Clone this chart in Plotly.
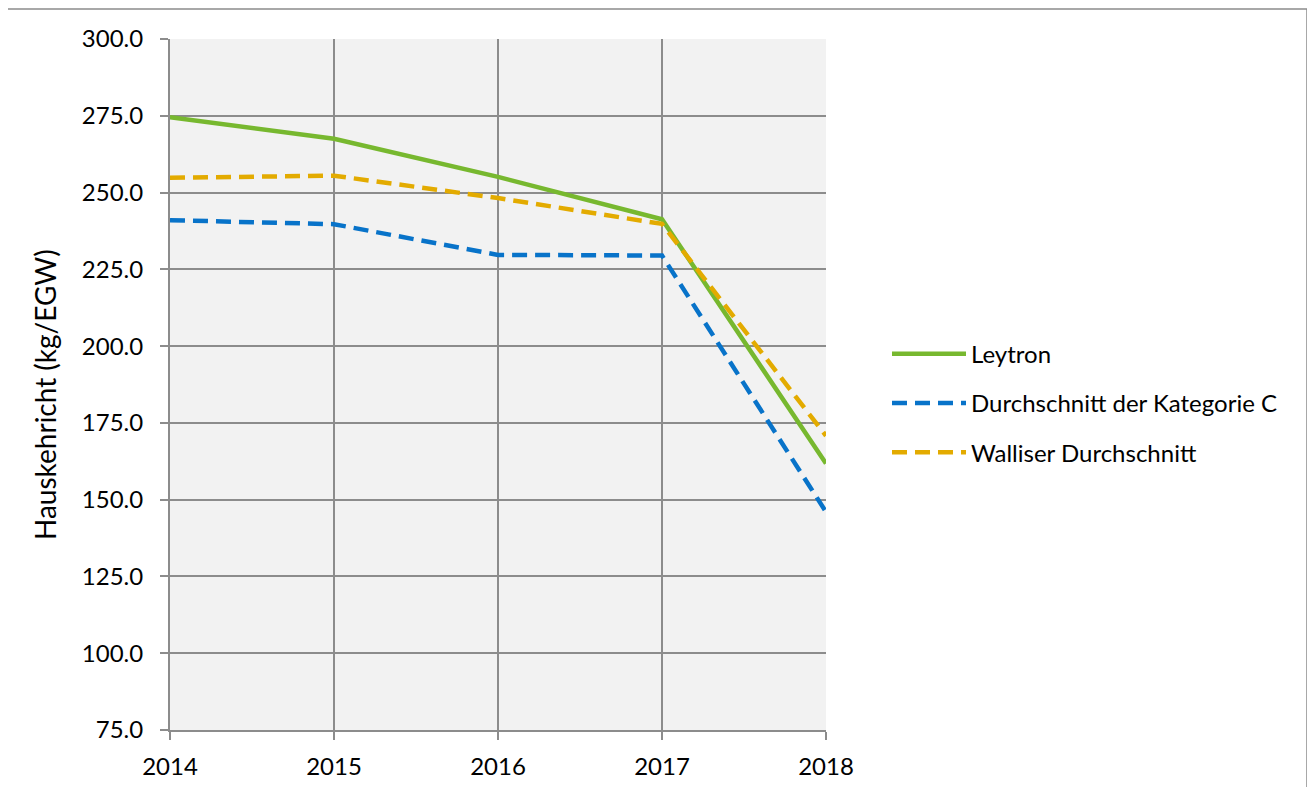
import plotly.graph_objects as go

years = [2014, 2015, 2016, 2017, 2018]
leytron = [274.5, 267.5, 255.1, 241.3, 161.8]
kategorie_c = [241.0, 239.7, 229.7, 229.5, 146.0]
wallis = [254.8, 255.5, 248.2, 239.8, 170.8]
y_ticks = [75, 100, 125, 150, 175, 200, 225, 250, 275, 300]

font_family = "Lato, 'Open Sans', sans-serif"

# page body has an 8px margin; figure is sized/offset to compensate
W, H = 1307, 779
L, R, T, B = 162, 1307 - 818, 31, 779 - 722
PW, PH = 818 - 162, 722 - 31

fig = go.Figure()
fig.add_trace(go.Scatter(x=years, y=leytron, mode="lines", name="Leytron",
                         legendgroup="a",
                         line=dict(color="#77b82f", width=4.5)))
fig.add_trace(go.Scatter(x=years, y=kategorie_c, mode="lines", name="Durchschnitt der Kategorie C",
                         legendgroup="b",
                         line=dict(color="#0873c9", width=4.5, dash="15px,8px")))
fig.add_trace(go.Scatter(x=years, y=wallis, mode="lines", name="Walliser Durchschnitt",
                         legendgroup="c",
                         line=dict(color="#e3ab00", width=4.5, dash="15px,8px")))

fig.update_layout(
    width=W, height=H,
    margin=dict(l=L, r=R, t=T, b=B, autoexpand=False),
    paper_bgcolor="white",
    plot_bgcolor="#f2f2f2",
    font=dict(family=font_family, size=24, color="black"),
    showlegend=True,
    legend=dict(x=(879 - L) / PW, y=0.473, xanchor="left", yanchor="middle",
                font=dict(size=24), bgcolor="rgba(0,0,0,0)",
                traceorder="grouped", tracegroupgap=15, itemwidth=74),
    xaxis=dict(range=[2014, 2018], tickmode="array", tickvals=years,
               ticktext=[str(y) for y in years],
               showgrid=True, gridcolor="#8c8c8c", gridwidth=2,
               showline=True, linecolor="#8c8c8c", linewidth=2,
               ticks="outside", ticklen=8, tickcolor="#8c8c8c", tickwidth=2,
               ticklabelstandoff=6,
               zeroline=False, mirror=False, tickfont=dict(size=24)),
    yaxis=dict(range=[75, 300], tickmode="array", tickvals=y_ticks,
               ticktext=[f"{v:.1f}" for v in y_ticks],
               showgrid=True, gridcolor="#8c8c8c", gridwidth=2,
               showline=True, linecolor="#8c8c8c", linewidth=2,
               ticks="outside", ticklen=8, tickcolor="#8c8c8c", tickwidth=2,
               ticklabelstandoff=12,
               zeroline=False, tickfont=dict(size=24)),
    annotations=[dict(text="Hauskehricht (kg/EGW)", textangle=-90,
                      xref="paper", yref="paper",
                      x=(37 - L) / PW, y=(722 - 387) / PH,
                      xanchor="center", yanchor="middle", showarrow=False,
                      font=dict(size=28))],
    shapes=[dict(type="rect", xref="paper", yref="paper",
                 x0=(-1 - L) / PW, x1=(1299 - L) / PW,
                 y0=-0.2, y1=(722 - 1) / PH,
                 line=dict(color="#8c8c8c", width=1.5), fillcolor="rgba(0,0,0,0)",
                 layer="below")],
)

fig.write_html("out.html")
